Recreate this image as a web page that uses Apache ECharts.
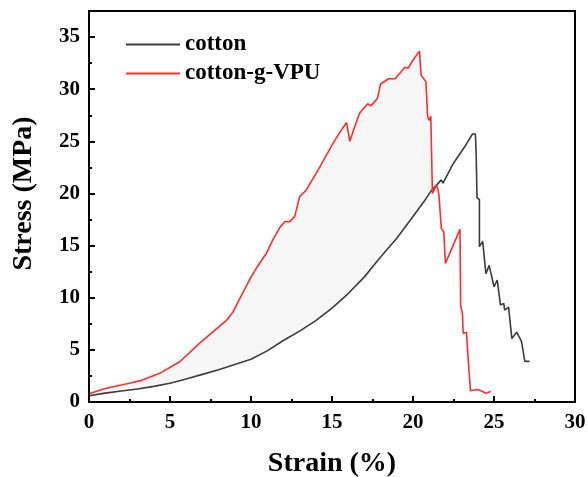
<!DOCTYPE html>
<html>
<head>
<meta charset="utf-8">
<script src="https://cdn.jsdelivr.net/npm/echarts@6/dist/echarts.min.js"></script>
<style>html,body{margin:0;padding:0;background:#fff}#c{width:588px;height:477px}</style>
</head>
<body>
<div id="c"></div>
<script>
// cotton: [strain %, stress MPa]
var cottonStrain = [0, 1, 2, 3, 4, 5, 6, 7, 8, 9, 10, 11, 12, 13, 14, 15, 16, 17, 18, 19, 20, 20.8, 21.1, 21.75, 21.85, 22.5, 23.2, 23.67, 23.85, 23.9, 23.95, 24.1, 24.1, 24.3, 24.5, 24.7, 25.0, 25.2, 25.4, 25.6, 25.66, 25.9, 26.1, 26.4, 26.7, 26.8, 26.9, 27.2];
var cottonStress = [0.6, 0.85, 1.05, 1.25, 1.5, 1.8, 2.2, 2.65, 3.1, 3.6, 4.1, 4.9, 5.9, 6.8, 7.8, 9.0, 10.4, 12.0, 13.9, 15.7, 17.8, 19.5, 20.2, 21.3, 21.0, 22.9, 24.5, 25.7, 25.7, 23.8, 19.6, 19.4, 14.9, 15.4, 12.3, 13.1, 11.05, 11.7, 9.3, 9.46, 8.8, 9.1, 6.1, 6.7, 5.8, 5.9, 3.9, 3.9];
// cotton-g-VPU
var vpuStrain = [0, 1, 2.5, 3.3, 4.36, 5.6, 6.8, 8.5, 8.9, 9.4, 9.9, 10.4, 10.95, 11.3, 11.8, 12.1, 12.4, 12.7, 13.0, 13.4, 14.2, 15.06, 15.5, 15.9, 16.1, 16.4, 16.7, 17.2, 17.4, 17.8, 18.0, 18.5, 18.9, 19.5, 19.7, 20.0, 20.4, 20.5, 20.8, 20.9, 21.0, 21.1, 21.2, 21.45, 21.55, 21.6, 21.75, 21.9, 22.0, 22.9, 22.94, 23.05, 23.1, 23.3, 23.4, 23.5, 23.55, 24.0, 24.1, 24.3, 24.5, 24.8];
var vpuStress = [0.8, 1.3, 1.79, 2.1, 2.75, 3.86, 5.6, 7.86, 8.66, 10.2, 11.7, 13.0, 14.26, 15.4, 16.8, 17.3, 17.3, 17.8, 19.7, 20.3, 22.4, 24.8, 25.9, 26.8, 25.0, 26.4, 27.7, 28.6, 28.4, 29.1, 30.5, 31.0, 31.0, 32.1, 32.0, 32.8, 33.65, 31.35, 30.7, 27.4, 27.0, 27.4, 20.0, 20.8, 20.3, 19.85, 16.65, 16.3, 13.3, 16.56, 9.3, 8.5, 6.6, 6.7, 4.2, 4.2, 1.08, 1.2, 1.05, 1.0, 0.83, 1.0];
var xTicks = [0, 5, 10, 15, 20, 25, 30];
var yTicks = [0, 5, 10, 15, 20, 25, 30, 35];

function pairs(xs, ys) { return xs.map(function (x, i) { return [x, ys[i]]; }); }
var cottonData = pairs(cottonStrain, cottonStress);
var vpuData = pairs(vpuStrain, vpuStress);

var font = 'Liberation Serif';
var chart = echarts.init(document.getElementById('c'), null, { renderer: 'canvas' });
var axisCommon = {
  z: 10,
  axisLine: { show: true, lineStyle: { color: '#000', width: 2 } },
  splitLine: { show: false },
  axisTick: { show: true, inside: true, length: 6, lineStyle: { color: '#000', width: 2 } },
  minorTick: { show: true, splitNumber: 2, length: 3, lineStyle: { color: '#000', width: 2 } },
  axisLabel: { color: '#000', fontFamily: font, fontWeight: 'bold', fontSize: 21 },
  nameTextStyle: { color: '#000', fontFamily: font, fontWeight: 'bold', fontSize: 28 }
};
chart.setOption({
  animation: false,
  backgroundColor: '#fff',
  grid: { left: 89, right: 13, top: 11, bottom: 75, outerBoundsMode: 'none', containLabel: false,
    show: true, borderColor: '#000', borderWidth: 2, backgroundColor: 'transparent' },
  legend: {
    data: ['cotton', 'cotton-g-VPU'],
    orient: 'vertical', left: 121, top: 28,
    icon: 'rect',
    itemWidth: 54, itemHeight: 2, itemGap: 6,
    textStyle: { color: '#000', fontFamily: font, fontWeight: 'bold', fontSize: 23, lineHeight: 23 }
  },
  xAxis: Object.assign({}, axisCommon, {
    type: 'value', min: xTicks[0], max: xTicks[xTicks.length - 1], interval: 5,
    name: 'Strain (%)', nameLocation: 'middle', nameGap: 48,
    axisLabel: Object.assign({}, axisCommon.axisLabel, { margin: 10 })
  }),
  yAxis: Object.assign({}, axisCommon, {
    type: 'value', min: yTicks[0], max: 37.5, interval: 5,
    name: 'Stress (MPa)', nameLocation: 'middle', nameGap: 51,
    nameTextStyle: Object.assign({}, axisCommon.nameTextStyle, { padding: [0, 0, 0, 26] }),
    axisLabel: Object.assign({}, axisCommon.axisLabel, { margin: 9, showMaxLabel: false })
  }),
  series: [
    { name: 'fillVPU', type: 'line', data: vpuData, symbol: 'none', silent: true, z: 1,
      lineStyle: { width: 0, opacity: 0 }, areaStyle: { color: '#f6f6f6', opacity: 1 } },
    { name: 'fillCotton', type: 'line', data: cottonData, symbol: 'none', silent: true, z: 2,
      lineStyle: { width: 0, opacity: 0 }, areaStyle: { color: '#ffffff', opacity: 1 } },
    { name: 'cotton', type: 'line', data: cottonData, symbol: 'none', z: 5,
      lineStyle: { color: '#3c3c3c', width: 1.6 }, itemStyle: { color: '#3c3c3c' } },
    { name: 'cotton-g-VPU', type: 'line', data: vpuData, symbol: 'none', z: 6,
      lineStyle: { color: '#ff2e2e', width: 1.6 }, itemStyle: { color: '#ff2e2e' } }
  ]
});
</script>
</body>
</html>
